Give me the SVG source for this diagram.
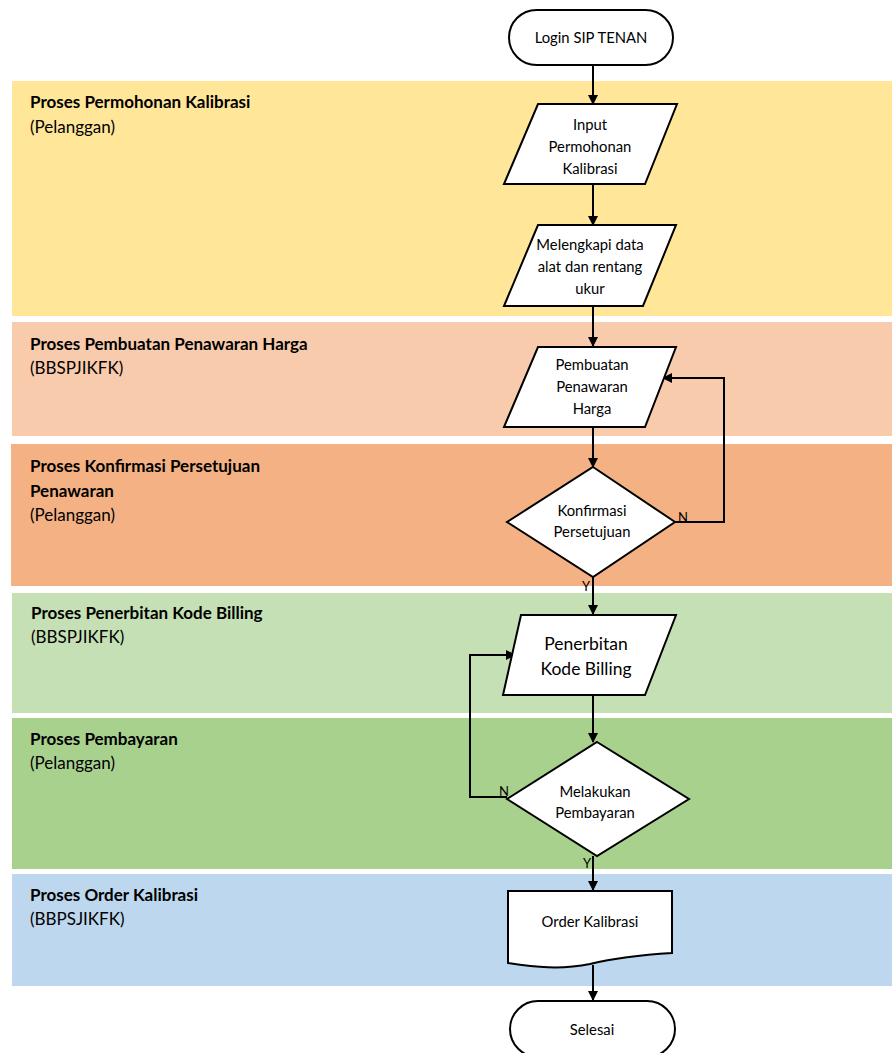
<svg xmlns="http://www.w3.org/2000/svg" width="892" height="1053" viewBox="0 0 892 1053">
<defs>
<marker id="ah" markerWidth="10" markerHeight="10" refX="9" refY="5" orient="auto" markerUnits="userSpaceOnUse" viewBox="0 0 10 10">
<path d="M0,0 L10,5 L0,10 Z" fill="#000"/>
</marker>
<style>
.band-t{font-family:Lato,"Open Sans","Liberation Sans",sans-serif;font-size:17px;font-weight:bold;fill:#000}
.band-s{font-family:Lato,"Open Sans","Liberation Sans",sans-serif;font-size:17px;fill:#000}
.shape{fill:#fff;stroke:#000;stroke-width:2}
.t{font-family:Lato,"Open Sans","Liberation Sans",sans-serif;font-size:14.8px;fill:#000;text-anchor:middle}
.tl{font-family:Lato,"Open Sans","Liberation Sans",sans-serif;font-size:17.5px;fill:#000;text-anchor:middle}
.lbl{font-family:Lato,"Open Sans","Liberation Sans",sans-serif;font-size:13px;fill:#000}
.c{fill:none;stroke:#000;stroke-width:2;marker-end:url(#ah)}
</style>
</defs>
<rect width="892" height="1053" fill="#fff"/>
<g id="bands">
<rect x="12" y="81" width="880" height="235" fill="#FFE699"/>
<rect x="12" y="322" width="880" height="114" fill="#F8CBAD"/>
<rect x="11" y="444" width="881" height="142" fill="#F4B183"/>
<rect x="12" y="593" width="880" height="120" fill="#C5E0B4"/>
<rect x="12" y="718" width="880" height="151" fill="#A9D18E"/>
<rect x="12" y="874" width="880" height="112" fill="#BDD7EE"/>
<text class="band-t" x="30" y="108">Proses Permohonan Kalibrasi</text>
<text class="band-s" x="30" y="133">(Pelanggan)</text>
<text class="band-t" x="30" y="350">Proses Pembuatan Penawaran Harga</text>
<text class="band-s" x="30" y="374">(BBSPJIKFK)</text>
<text class="band-t" x="30" y="472">Proses Konfirmasi Persetujuan</text>
<text class="band-t" x="30" y="497">Penawaran</text>
<text class="band-s" x="30" y="521">(Pelanggan)</text>
<text class="band-t" x="31" y="619">Proses Penerbitan Kode Billing</text>
<text class="band-s" x="31" y="643">(BBSPJIKFK)</text>
<text class="band-t" x="30" y="745">Proses Pembayaran</text>
<text class="band-s" x="30" y="769">(Pelanggan)</text>
<text class="band-t" x="30" y="901">Proses Order Kalibrasi</text>
<text class="band-s" x="30" y="925">(BBPSJIKFK)</text>
</g>
<g id="connectors">
<path class="c" d="M593,65 V104"/>
<path class="c" d="M593,184 V225"/>
<path class="c" d="M593,306 V346"/>
<path class="c" d="M593,427 V467"/>
<path class="c" d="M675,522 H724 V378 H663"/>
<path class="c" d="M593,577 V614"/>
<path class="c" d="M593,695 V742"/>
<path class="c" d="M507,797 H470 V655 H515"/>
<path class="c" d="M593,856 V890"/>
<path class="c" d="M593,965 V1000"/>
<text class="lbl" x="678" y="522">N</text>
<text class="lbl" x="582" y="591">Y</text>
<text class="lbl" x="499" y="796">N</text>
<text class="lbl" x="583" y="868">Y</text>
</g>
<g id="login">
<rect class="shape" x="509" y="10" width="164" height="55" rx="27.5"/>
<text class="t" x="591" y="43">Login SIP TENAN</text>
</g>
<g id="input">
<polygon class="shape" points="538,104 677,104 645,184 504,184"/>
<text class="t" x="590" y="130">Input</text>
<text class="t" x="590" y="152">Permohonan</text>
<text class="t" x="590" y="174">Kalibrasi</text>
</g>
<g id="melengkapi">
<polygon class="shape" points="538,225 676,225 643,306 504,306"/>
<text class="t" x="590" y="250">Melengkapi data</text>
<text class="t" x="590" y="272">alat dan rentang</text>
<text class="t" x="590" y="294">ukur</text>
</g>
<g id="pembuatan">
<polygon class="shape" points="538,347 676,347 645,427 504,427"/>
<text class="t" x="592" y="370">Pembuatan</text>
<text class="t" x="592" y="392">Penawaran</text>
<text class="t" x="592" y="414">Harga</text>
</g>
<g id="konfirmasi">
<polygon class="shape" points="593,467 675,522 593,577 507,522"/>
<text class="t" x="592" y="516">Konfirmasi</text>
<text class="t" x="592" y="537">Persetujuan</text>
</g>
<g id="penerbitan">
<polygon class="shape" points="521,615 676,615 645,695 503,695"/>
<text class="tl" x="586" y="650">Penerbitan</text>
<text class="tl" x="586" y="675">Kode Billing</text>
</g>
<g id="pembayaran">
<polygon class="shape" points="597,742 689,799 597,856 507,799"/>
<text class="t" x="595" y="797">Melakukan</text>
<text class="t" x="595" y="818">Pembayaran</text>
</g>
<g id="order">
<path class="shape" d="M508,891 H672 V953 C640,955 615,958 590,964 C560,970 535,967 508,963 Z"/>
<text class="t" x="590" y="927">Order Kalibrasi</text>
</g>
<g id="selesai">
<rect class="shape" x="510" y="1001" width="165" height="56" rx="28"/>
<text class="t" x="592" y="1035">Selesai</text>
</g>
</svg>
